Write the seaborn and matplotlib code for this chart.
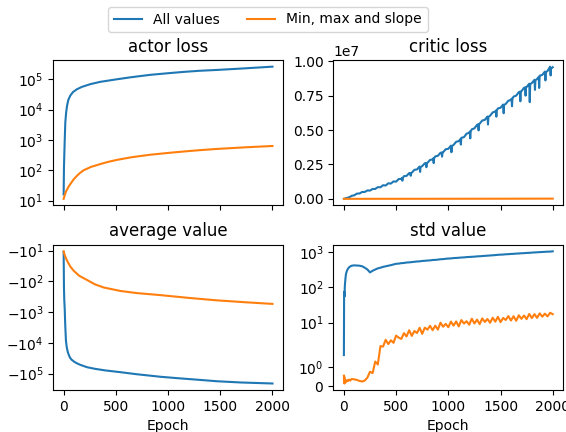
import numpy as np
import pandas as pd
import seaborn as sns
import matplotlib.pyplot as plt

# ---- actor loss ----
actor_all_epoch = [0, 3, 6, 10, 16, 24, 32, 45, 64, 90, 128, 175, 256, 350, 512,
                   650, 832, 1000, 1152, 1300, 1472, 1700, 2000]
actor_all = [16, 120, 300, 900, 3800, 8000, 13000, 21000, 29000, 38000, 47000, 56000,
             69000, 82000, 100000, 117000, 140000, 158000, 175000, 190000, 203000,
             225000, 260000]
actor_min_epoch = [0, 5, 10, 20, 32, 48, 64, 96, 128, 160, 192, 260, 352, 430, 512,
                   650, 832, 1000, 1152, 1300, 1472, 1750, 2000]
actor_min = [11.4, 13, 15, 19, 23, 29, 35, 50, 66, 83, 100, 128, 160, 190, 220, 268,
             325, 372, 415, 458, 505, 572, 630]

# ---- critic loss (millions) ----
critic_epoch = list(range(0, 2001, 25))
critic_all_m = [0.00, 0.06, 0.11, 0.22, 0.26, 0.38, 0.39, 0.50, 0.50, 0.61, 0.60, 0.72,
                0.72, 0.85, 0.84, 0.99, 0.97, 1.13, 1.11, 1.27, 1.25, 1.44, 1.45, 1.65,
                1.67, 1.87, 1.90, 2.11, 2.14, 2.35, 2.38, 2.59, 2.62, 2.83, 2.87, 3.09,
                3.13, 3.35, 3.39, 3.61, 3.64, 3.87, 3.92, 4.15, 4.20, 4.44, 4.49, 4.74,
                4.81, 5.06, 5.13, 5.38, 5.47, 5.70, 5.75, 5.99, 6.05, 6.29, 6.35, 6.58,
                6.63, 6.86, 6.91, 7.14, 7.20, 7.44, 7.51, 7.76, 7.83, 8.08, 8.14, 8.38,
                8.43, 8.66, 8.72, 8.96, 9.02, 9.26, 9.30, 9.62, 9.58]
# narrow downward spikes
critic_dip_epoch = [556, 560, 564, 636, 640, 644, 726, 730, 734, 786, 790, 794,
                    856, 860, 864, 936, 940, 944, 1026, 1030, 1034, 1116, 1120, 1124,
                    1206, 1210, 1214, 1286, 1290, 1294, 1376, 1380, 1384, 1456, 1460, 1464,
                    1526, 1530, 1534, 1606, 1610, 1614, 1686, 1690, 1694, 1736, 1740, 1744,
                    1776, 1780, 1784, 1826, 1830, 1834, 1866, 1870, 1874, 1926, 1930, 1934,
                    1976, 1980, 1984]
critic_dip_m = [1.52, 1.32, 1.52, 1.88, 1.68, 1.88, 2.31, 1.96, 2.31, 2.60, 2.30, 2.60,
                2.95, 2.60, 2.95, 3.37, 3.07, 3.37, 3.84, 3.39, 3.84, 4.35, 3.95, 4.35,
                4.90, 4.40, 4.90, 5.43, 4.98, 5.43, 5.96, 5.41, 5.96, 6.43, 5.98, 6.43,
                6.83, 6.23, 6.83, 7.29, 6.74, 7.29, 7.80, 7.10, 7.80, 8.11, 7.51, 8.11,
                8.34, 7.04, 8.34, 8.63, 7.93, 8.63, 8.87, 8.07, 8.87, 9.22, 8.62, 9.22,
                9.48, 8.98, 9.48]
critic_min_epoch = [0, 500, 1000, 1500, 2000]
critic_min = [10, 2000, 5000, 9000, 14000]

# ---- average value ----
avg_all_epoch = [0, 3, 6, 10, 15, 22, 30, 40, 48, 60, 75, 96, 125, 160, 224, 300, 400,
                 544, 700, 928, 1100, 1300, 1472, 1700, 2000]
avg_all = [-11, -150, -400, -750, -2500, -8500, -14000, -20000, -24000, -30000, -35000,
           -40000, -46000, -52000, -62000, -70000, -79000, -90000, -105000, -127000,
           -142000, -160000, -178000, -195000, -210000]
avg_min_epoch = [0, 10, 32, 64, 96, 150, 224, 300, 384, 544, 700, 928, 1200, 1472,
                 1750, 2000]
avg_min = [-10.5, -14, -21, -33, -45, -66, -90, -125, -158, -205, -240, -280, -345,
           -415, -480, -540]

# ---- std value ----
std_epoch = [0, 2, 4, 6, 8, 10, 15, 20, 30, 40, 50, 60, 75] + list(range(100, 2001, 25))
std_all = [1.6, 60, 75, 55, 90, 120, 180, 240, 300, 340, 370, 390, 410,
           420, 415, 410, 395, 360, 320, 265, 295, 320, 345, 360, 380, 395, 410, 425,
           445, 465, 470, 485, 490, 505, 510, 520, 530, 540, 545, 560, 565, 575, 580,
           595, 600, 610, 625, 630, 645, 655, 660, 675, 680, 690, 700, 705, 720, 725,
           735, 740, 755, 760, 770, 780, 790, 800, 810, 820, 835, 845, 850, 865, 870,
           885, 890, 905, 910, 925, 930, 945, 950, 965, 975, 985, 995, 1005, 1015,
           1025, 1030, 1050]
std_min = [0.55, 0.2, 0.5, 0.15, 0.35, 0.25, 0.3, 0.22, 0.32, 0.28, 0.35, 0.3, 0.38,
           0.36, 0.33, 0.28, 0.25, 0.3,
           0.45, 0.75, 0.68, 1.27, 1.12, 2.16, 2.09, 3.25, 2.46, 3.15, 2.67, 4.27,
           3.75, 3.44, 5.02, 4.05, 6.08, 4.2, 5.78, 5.06, 7.13, 4.8, 7.19, 6.31,
           8.1, 6.09, 8.18, 6.31, 9.95, 7.63, 9.18, 7.4, 10.68, 8.19, 10.79, 7.79,
           11.77, 9.41, 10.95, 8.69, 12.88, 9.45, 12.14, 9.07, 13.14, 10.43, 12.66,
           9.89, 13.75, 10.62, 14.58, 10.29, 13.53, 11.88, 15.3, 11.44, 15.18, 11.26,
           16.11, 12.79, 15.85, 12.53, 17.58, 13.41, 17.33, 13.64, 18.27, 14.72,
           17.93, 14.94, 18.98, 17.3]

fig, axes = plt.subplots(2, 2, sharex=True, figsize=(5.66, 4.32), dpi=100)
axes[0, 0].set_yscale("symlog")
axes[1, 0].set_yscale("symlog")
axes[1, 1].set_yscale("symlog")


def draw(ax, x1, y1, x2, y2, title):
    sns.lineplot(x=x1, y=y1, ax=ax, color="C0", label="All values",
                 errorbar=None, legend=False)
    sns.lineplot(x=x2, y=y2, ax=ax, color="C1", label="Min, max and slope",
                 errorbar=None, legend=False)
    if ax.get_legend() is not None:
        ax.get_legend().remove()
    ax.set_title(title)
    ax.set_ylabel("")


draw(axes[0, 0], actor_all_epoch, actor_all, actor_min_epoch, actor_min, "actor loss")

critic_x = critic_epoch + critic_dip_epoch
critic_y = np.array(critic_all_m + critic_dip_m) * 1e6
draw(axes[0, 1], critic_x, critic_y, critic_min_epoch, critic_min, "critic loss")

draw(axes[1, 0], avg_all_epoch, avg_all, avg_min_epoch, avg_min, "average value")

draw(axes[1, 1], std_epoch, std_all, std_epoch, std_min, "std value")

for ax in axes[0]:
    ax.set_xlabel("")
for ax in axes[1]:
    ax.set_xlabel("Epoch")
axes[1, 0].set_xticks([0, 500, 1000, 1500, 2000])

handles, labels = axes[0, 0].get_legend_handles_labels()
fig.legend(handles, labels, loc="upper center", ncol=2, bbox_to_anchor=(0.4735, 1.0))

fig.subplots_adjust(left=0.094, right=0.995, top=0.861, bottom=0.097,
                    wspace=0.22, hspace=0.27)
fig.savefig("out.png", dpi=100)
